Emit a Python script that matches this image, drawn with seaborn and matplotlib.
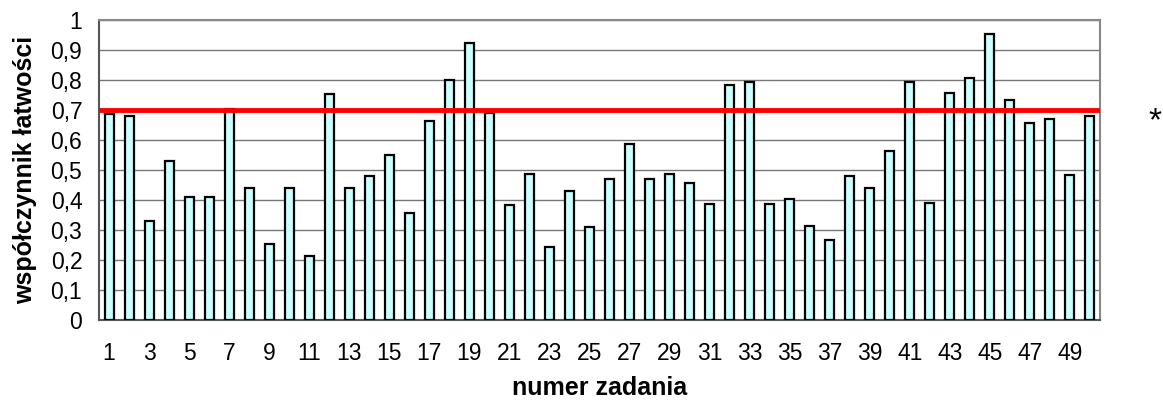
import numpy as np
import pandas as pd
import matplotlib
matplotlib.use("Agg")
import matplotlib.pyplot as plt
from matplotlib.ticker import FixedLocator
import seaborn as sns

# Dane: numery zadań i współczynniki łatwości
zadania = list(range(1, 51))
latwosc = [0.685, 0.68, 0.33, 0.53, 0.41, 0.41, 0.705, 0.44, 0.255, 0.44,
           0.215, 0.755, 0.44, 0.48, 0.55, 0.356, 0.664, 0.80, 0.925, 0.69,
           0.383, 0.488, 0.242, 0.43, 0.31, 0.469, 0.588, 0.471, 0.488, 0.458,
           0.387, 0.782, 0.793, 0.387, 0.403, 0.313, 0.266, 0.48, 0.44, 0.563,
           0.792, 0.391, 0.758, 0.806, 0.953, 0.733, 0.656, 0.67, 0.482, 0.681]
prog = 0.7
y_ticks = [i / 10 for i in range(11)]
y_tick_labels = ["0"] + [f"0,{i}" for i in range(1, 10)] + ["1"]
x_tick_labels = [str(n) for n in zadania[::2]]

df = pd.DataFrame({"zadanie": [str(z) for z in zadania], "wsp": latwosc})

sns.set_style("white")
plt.rcParams["font.family"] = ["Liberation Sans", "DejaVu Sans"]
plt.rcParams["text.color"] = "black"
plt.rcParams["axes.labelcolor"] = "black"
plt.rcParams["xtick.color"] = "black"
plt.rcParams["ytick.color"] = "black"

fig = plt.figure(figsize=(11.63, 4.05), dpi=100)
ax = fig.add_axes([99 / 1163, 85 / 405, 1001 / 1163, 300 / 405])

sns.barplot(data=df, x="zadanie", y="wsp", color="#CCFFFF", saturation=1,
            edgecolor="black", linewidth=1.6, width=0.45, ax=ax, zorder=3)

ax.axhline(prog, color="#FF0000", linewidth=3.5, zorder=4)

ax.set_xlim(-0.5, len(zadania) - 0.5)
ax.set_ylim(0, 1)
ax.set_yticks(y_ticks)
ax.set_yticklabels(y_tick_labels, fontsize=16.5)
ax.yaxis.grid(True, color="#777777", linewidth=1.0, zorder=0)
ax.set_axisbelow(True)

ax.set_xticks(np.arange(0, len(zadania), 2))
ax.set_xticklabels(x_tick_labels, fontsize=16.5)
ax.xaxis.set_minor_locator(FixedLocator(np.arange(-0.5, len(zadania), 1)))
ax.tick_params(axis="x", which="major", length=0, pad=16)
ax.tick_params(axis="x", which="minor", length=7, width=1, color="black", direction="out")
ax.tick_params(axis="y", length=6, width=1, color="black", direction="out", pad=6)

for side in ["top", "right"]:
    ax.spines[side].set_color("#888888")
    ax.spines[side].set_linewidth(1.5)
for side in ["left", "bottom"]:
    ax.spines[side].set_color("#555555")
    ax.spines[side].set_linewidth(1.5)

ax.set_xlabel("numer zadania", fontsize=18, fontweight="bold", labelpad=8)
ax.set_ylabel("współczynnik łatwości", fontsize=18, fontweight="bold", labelpad=10)

fig.text(1155 / 1163, 1 - 122 / 405, "*", fontsize=24, ha="center", va="center")

fig.savefig("out.png", dpi=100)
